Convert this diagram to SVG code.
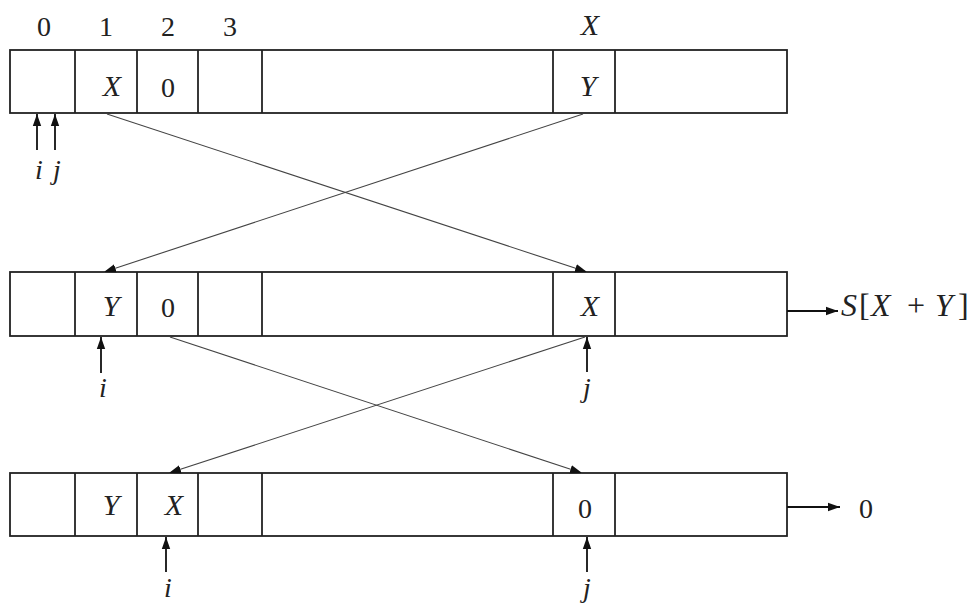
<svg xmlns="http://www.w3.org/2000/svg" width="973" height="605" viewBox="0 0 973 605">
<style>
.box{fill:none;stroke:#222;stroke-width:1.8}
.div{stroke:#222;stroke-width:1.8}
text{font-family:'Liberation Serif','DejaVu Serif',serif;font-size:28px;fill:#222;text-anchor:middle}
.i{font-style:italic}
.v{font-style:italic;font-size:30px}
.c{stroke:#444;stroke-width:1.1;fill:none}
.p{stroke:#111;stroke-width:1.8;fill:none}
</style>
<defs>
<marker id="ah" viewBox="0 0 10 10" refX="10" refY="5" markerWidth="12" markerHeight="12" markerUnits="userSpaceOnUse" orient="auto">
<path d="M0,1.5 L10,5 L0,8.5 Z" fill="#111"/>
</marker>
</defs>
<rect width="973" height="605" fill="#fff"/>
<g id="indices">
<text x="44" y="36">0</text>
<text x="106" y="36">1</text>
<text x="168" y="36">2</text>
<text x="230" y="36">3</text>
<text class="v" x="590" y="35">X</text>
</g>
<g id="row1">
<rect class="box" x="10" y="50" width="777" height="63"/>
<line class="div" x1="75" y1="50" x2="75" y2="113"/>
<line class="div" x1="137" y1="50" x2="137" y2="113"/>
<line class="div" x1="198" y1="50" x2="198" y2="113"/>
<line class="div" x1="262" y1="50" x2="262" y2="113"/>
<line class="div" x1="553" y1="50" x2="553" y2="113"/>
<line class="div" x1="615" y1="50" x2="615" y2="113"/>
<text class="v" x="112" y="96">X</text>
<text x="168" y="97">0</text>
<text class="v" x="588" y="96">Y</text>
</g>
<g id="row2">
<rect class="box" x="10" y="272" width="777" height="64"/>
<line class="div" x1="75" y1="272" x2="75" y2="336"/>
<line class="div" x1="137" y1="272" x2="137" y2="336"/>
<line class="div" x1="198" y1="272" x2="198" y2="336"/>
<line class="div" x1="262" y1="272" x2="262" y2="336"/>
<line class="div" x1="553" y1="272" x2="553" y2="336"/>
<line class="div" x1="615" y1="272" x2="615" y2="336"/>
<text class="v" x="111" y="316">Y</text>
<text x="168" y="317">0</text>
<text class="v" x="590" y="316">X</text>
</g>
<g id="row3">
<rect class="box" x="10" y="473" width="777" height="63"/>
<line class="div" x1="75" y1="473" x2="75" y2="536"/>
<line class="div" x1="137" y1="473" x2="137" y2="536"/>
<line class="div" x1="198" y1="473" x2="198" y2="536"/>
<line class="div" x1="262" y1="473" x2="262" y2="536"/>
<line class="div" x1="553" y1="473" x2="553" y2="536"/>
<line class="div" x1="615" y1="473" x2="615" y2="536"/>
<text class="v" x="111" y="515">Y</text>
<text class="v" x="174" y="515">X</text>
<text x="585" y="518">0</text>
</g>
<g id="pointers">
<line class="p" x1="37" y1="150" x2="37" y2="114" marker-end="url(#ah)"/>
<line class="p" x1="55" y1="150" x2="55" y2="114" marker-end="url(#ah)"/>
<text class="i" x="39" y="179">i</text>
<text class="i" x="57" y="179">j</text>
<line class="p" x1="101" y1="373" x2="101" y2="337" marker-end="url(#ah)"/>
<text class="i" x="103" y="397">i</text>
<line class="p" x1="587" y1="372" x2="587" y2="337" marker-end="url(#ah)"/>
<text class="i" x="587" y="397">j</text>
<line class="p" x1="166" y1="572" x2="166" y2="537" marker-end="url(#ah)"/>
<text class="i" x="168" y="597">i</text>
<line class="p" x1="587" y1="572" x2="587" y2="537" marker-end="url(#ah)"/>
<text class="i" x="587" y="597">j</text>
</g>
<g id="connectors">
<line class="c" x1="107" y1="114" x2="587" y2="272" marker-end="url(#ah)"/>
<line class="c" x1="583" y1="114" x2="104" y2="272" marker-end="url(#ah)"/>
<line class="c" x1="170" y1="337" x2="582" y2="473" marker-end="url(#ah)"/>
<line class="c" x1="585" y1="337" x2="169" y2="473" marker-end="url(#ah)"/>
</g>
<g id="outputs">
<line class="p" x1="787" y1="311" x2="838" y2="311" marker-end="url(#ah)"/>
<text y="316" style="text-anchor:start;font-size:32px"><tspan class="i" x="841">S</tspan><tspan x="859">[</tspan><tspan class="i" x="871">X</tspan><tspan x="907">+</tspan><tspan class="i" x="935">Y</tspan><tspan x="958">]</tspan></text>
<line class="p" x1="787" y1="507" x2="840" y2="507" marker-end="url(#ah)"/>
<text x="866" y="518">0</text>
</g>
</svg>
